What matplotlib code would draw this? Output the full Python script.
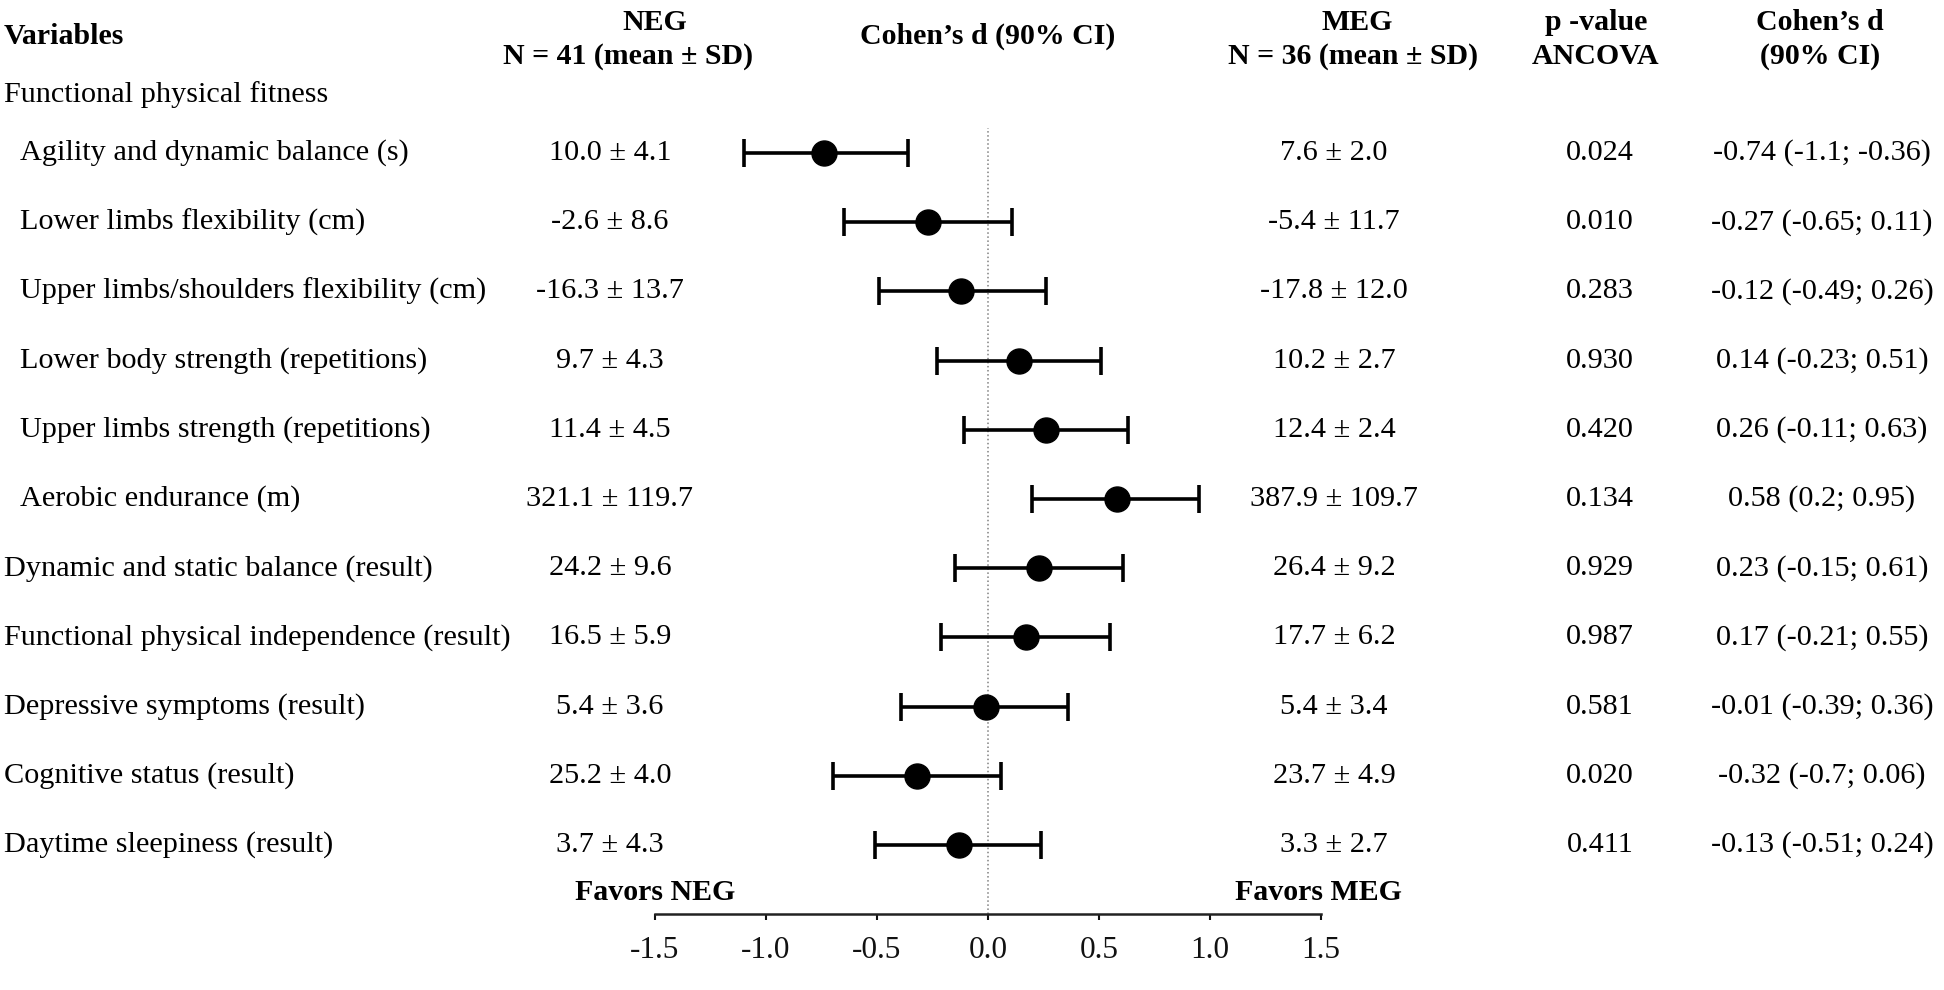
import matplotlib.pyplot as plt
import matplotlib.transforms as mtransforms
import numpy as np

# datos de la tabla
variables = ['Agility and dynamic balance (s)',
             'Lower limbs flexibility (cm)',
             'Upper limbs/shoulders flexibility (cm)',
             'Lower body strength (repetitions)',
             'Upper limbs strength (repetitions)',
             'Aerobic endurance (m)',
             'Dynamic and static balance (result)',
             'Functional physical independence (result)',
             'Depressive symptoms (result)',
             'Cognitive status (result)',
             'Daytime sleepiness (result)']
sangria = [True, True, True, True, True, True, False, False, False, False, False]
neg = ['10.0 ± 4.1', '-2.6 ± 8.6', '-16.3 ± 13.7', '9.7 ± 4.3', '11.4 ± 4.5',
       '321.1 ± 119.7', '24.2 ± 9.6', '16.5 ± 5.9', '5.4 ± 3.6', '25.2 ± 4.0',
       '3.7 ± 4.3']
meg = ['7.6 ± 2.0', '-5.4 ± 11.7', '-17.8 ± 12.0', '10.2 ± 2.7', '12.4 ± 2.4',
       '387.9 ± 109.7', '26.4 ± 9.2', '17.7 ± 6.2', '5.4 ± 3.4', '23.7 ± 4.9',
       '3.3 ± 2.7']
pvalor = ['0.024', '0.010', '0.283', '0.930', '0.420', '0.134', '0.929', '0.987',
          '0.581', '0.020', '0.411']
d = np.array([-0.74, -0.27, -0.12, 0.14, 0.26, 0.58, 0.23, 0.17, -0.01, -0.32, -0.13])
lo = np.array([-1.1, -0.65, -0.49, -0.23, -0.11, 0.2, -0.15, -0.21, -0.39, -0.7, -0.51])
hi = np.array([-0.36, 0.11, 0.26, 0.51, 0.63, 0.95, 0.61, 0.55, 0.36, 0.06, 0.24])
ticks = [-1.5, -1.0, -0.5, 0.0, 0.5, 1.0, 1.5]

plt.rcParams['font.family'] = ['Liberation Serif', 'DejaVu Serif']

W, H = 1944, 990
fig = plt.figure(figsize=(W / 100, H / 100), dpi=100)

# posicion del grafico en pixeles
x0, x1 = 655, 1321
ytop, ybot = 128, 914
fila0, paso = 153, 69.2
ax = fig.add_axes([x0 / W, 1 - ybot / H, (x1 - x0) / W, (ybot - ytop) / H])
filas = np.arange(len(variables))
ax.set_xlim(-1.5, 1.5)
ax.set_ylim((ybot - fila0) / paso, (ytop - fila0) / paso)

ax.axvline(0, color='gray', linestyle=':', linewidth=1.1, zorder=1)
ax.errorbar(d, filas, xerr=[d - lo, hi - d], fmt='o', color='black', ms=18,
            capsize=10, elinewidth=2.6, capthick=2.6, zorder=3)

for s in ['top', 'right', 'left']:
    ax.spines[s].set_visible(False)
ax.spines['bottom'].set_linewidth(1.8)
ax.spines['bottom'].set_color('#222222')
ax.set_yticks([])
ax.set_xticks(ticks)
ax.set_xticklabels([f'{t:.1f}' for t in ticks])
ax.tick_params(axis='x', direction='out', length=4, width=1.5, pad=12,
               labelsize=22.5, colors='#111111')

# textos de cada fila
tr = mtransforms.blended_transform_factory(fig.transFigure, ax.transData)
fs = 21.8
for i in filas:
    xl = 20 if sangria[i] else 4
    ax.text(xl / W, i, variables[i], transform=tr, fontsize=fs, ha='left', va='center')
    ax.text(610 / W, i, neg[i], transform=tr, fontsize=fs, ha='center', va='center')
    ax.text(1334 / W, i, meg[i], transform=tr, fontsize=fs, ha='center', va='center')
    ax.text(1600 / W, i, pvalor[i], transform=tr, fontsize=fs, ha='center', va='center')
    ax.text(1822 / W, i, f'{d[i]:.2f} ({lo[i]:g}; {hi[i]:g})', transform=tr,
            fontsize=fs, ha='center', va='center')

ax.text(4 / W, -(fila0 - 95) / paso, 'Functional physical fitness', transform=tr,
        fontsize=fs, ha='left', va='center')

# encabezados
hs = 21.5
fig.text(4 / W, 1 - 36 / H, 'Variables', fontsize=hs, weight='bold', ha='left', va='center')
fig.text(655 / W, 1 - 23 / H, 'NEG', fontsize=hs, weight='bold', ha='center', va='center')
fig.text(628 / W, 1 - 57 / H, 'N = 41 (mean ± SD)', fontsize=hs, weight='bold',
         ha='center', va='center')
fig.text(988 / W, 1 - 36 / H, 'Cohen’s d (90% CI)', fontsize=hs, weight='bold',
         ha='center', va='center')
fig.text(1357 / W, 1 - 23 / H, 'MEG', fontsize=hs, weight='bold', ha='center', va='center')
fig.text(1353 / W, 1 - 57 / H, 'N = 36 (mean ± SD)', fontsize=hs, weight='bold',
         ha='center', va='center')
fig.text(1596 / W, 1 - 23 / H, 'p -value', fontsize=hs, weight='bold', ha='center', va='center')
fig.text(1596 / W, 1 - 57 / H, 'ANCOVA', fontsize=hs, weight='bold', ha='center', va='center')
fig.text(1820 / W, 1 - 23 / H, 'Cohen’s d', fontsize=hs, weight='bold', ha='center', va='center')
fig.text(1820 / W, 1 - 57 / H, '(90% CI)', fontsize=hs, weight='bold', ha='center', va='center')

fig.text(575 / W, 1 - 892 / H, 'Favors NEG', fontsize=hs, weight='bold', ha='left', va='center')
fig.text(1402 / W, 1 - 892 / H, 'Favors MEG', fontsize=hs, weight='bold', ha='right', va='center')

fig.savefig('out.png', dpi=100, facecolor='white')
